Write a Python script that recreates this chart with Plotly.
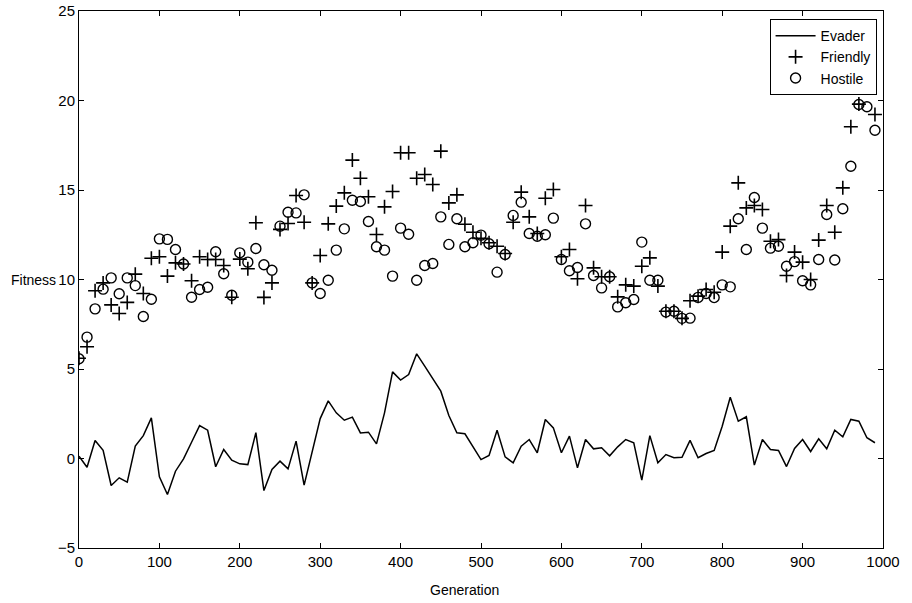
import plotly.graph_objects as go

generation = [0, 10, 20, 30, 40, 50, 60, 70, 80, 90,
              100, 110, 120, 130, 140, 150, 160, 170, 180, 190,
              200, 210, 220, 230, 240, 250, 260, 270, 280, 290,
              300, 310, 320, 330, 340, 350, 360, 370, 380, 390,
              400, 410, 420, 430, 440, 450, 460, 470, 480, 490,
              500, 510, 520, 530, 540, 550, 560, 570, 580, 590,
              600, 610, 620, 630, 640, 650, 660, 670, 680, 690,
              700, 710, 720, 730, 740, 750, 760, 770, 780, 790,
              800, 810, 820, 830, 840, 850, 860, 870, 880, 890,
              900, 910, 920, 930, 940, 950, 960, 970, 980, 990]

evader = [0.13, -0.49, 1.01, 0.46, -1.51, -1.08, -1.32, 0.69, 1.28, 2.27,
          -1.02, -2.01, -0.71, -0.02, 0.91, 1.84, 1.58, -0.46, 0.50, -0.09,
          -0.30, -0.34, 1.44, -1.79, -0.61, -0.15, -0.58, 0.97, -1.49, 0.37,
          2.23, 3.22, 2.55, 2.14, 2.31, 1.43, 1.47, 0.82, 2.55, 4.84,
          4.38, 4.69, 5.85, 5.16, 4.45, 3.76, 2.40, 1.44, 1.38, 0.69,
          -0.06, 0.17, 1.58, 0.09, -0.24, 0.69, 1.06, 0.32, 2.18, 1.71,
          0.32, 1.25, -0.52, 1.06, 0.54, 0.60, 0.15, 0.65, 1.06, 0.88,
          -1.21, 1.28, -0.24, 0.22, 0.04, 0.07, 1.01, 0.04, 0.28, 0.45,
          1.80, 3.42, 2.08, 2.33, -0.37, 1.06, 0.50, 0.45, -0.45, 0.56,
          1.06, 0.39, 1.10, 0.54, 1.58, 1.21, 2.18, 2.08, 1.16, 0.88]

friendly = [5.60, 6.24, 9.37, 9.81, 8.58, 8.10, 8.72, 10.30, 9.22, 11.19,
            11.27, 10.19, 10.93, 10.87, 9.93, 11.27, 11.12, 11.12, 10.78, 9.01,
            11.14, 10.60, 13.17, 9.00, 9.81, 12.80, 13.13, 14.69, 13.20, 9.81,
            11.34, 13.11, 14.10, 14.84, 16.67, 15.66, 14.62, 12.51, 14.06, 14.92,
            17.08, 17.08, 15.66, 15.87, 15.31, 17.17, 14.28, 14.73, 13.09, 12.64,
            12.30, 12.05, 11.86, 11.45, 13.20, 14.88, 13.50, 12.57, 14.54, 15.03,
            11.27, 11.68, 10.04, 14.13, 10.65, 10.15, 10.15, 9.03, 9.70, 9.63,
            10.74, 11.21, 9.63, 8.23, 8.23, 7.83, 8.81, 9.07, 9.44, 9.29,
            11.53, 12.98, 15.40, 14.00, 14.13, 13.91, 12.14, 12.23, 10.22, 11.53,
            10.97, 10.00, 12.20, 14.13, 12.64, 15.12, 18.53, 19.80, 20.71, 19.22]

hostile = [5.57, 6.78, 8.36, 9.46, 10.09, 9.20, 10.09, 9.66, 7.93, 8.90,
           12.27, 12.24, 11.68, 10.87, 9.01, 9.44, 9.57, 11.55, 10.32, 9.12,
           11.49, 10.97, 11.73, 10.82, 10.52, 12.98, 13.76, 13.72, 14.73, 9.81,
           9.22, 9.96, 11.64, 12.83, 14.43, 14.36, 13.24, 11.83, 11.64, 10.19,
           12.87, 12.53, 9.96, 10.78, 10.89, 13.50, 11.96, 13.39, 11.83, 12.05,
           12.48, 12.00, 10.41, 11.40, 13.58, 14.32, 12.57, 12.42, 12.50, 13.43,
           11.12, 10.49, 10.67, 13.11, 10.22, 9.53, 10.15, 8.47, 8.70, 8.88,
           12.09, 9.96, 9.96, 8.18, 8.23, 7.83, 7.84, 9.00, 9.22, 8.99,
           9.70, 9.59, 13.39, 11.68, 14.58, 12.87, 11.75, 11.86, 10.74, 11.00,
           9.93, 9.70, 11.12, 13.63, 11.09, 13.95, 16.33, 19.78, 19.65, 18.34]

x_ticks = [0, 100, 200, 300, 400, 500, 600, 700, 800, 900, 1000]
y_ticks = [-5, 0, 5, 10, 15, 20, 25]

FONT = "Liberation Sans, Arial, Helvetica, sans-serif"

fig = go.Figure()
fig.add_trace(go.Scatter(x=generation, y=evader, mode="lines", name="Evader",
                         line=dict(color="black", width=1.5)))
fig.add_trace(go.Scatter(x=generation, y=friendly, mode="markers", name="Friendly",
                         marker=dict(symbol="cross-thin-open", size=10,
                                     line=dict(color="black", width=1.6),
                                     color="black")))
fig.add_trace(go.Scatter(x=generation, y=hostile, mode="markers", name="Hostile",
                         marker=dict(symbol="circle-open", size=10,
                                     line=dict(color="black", width=1.4),
                                     color="black")))

axis_common = dict(showline=True, linecolor="black", linewidth=1,
                   mirror="allticks", ticks="inside", ticklen=5,
                   tickcolor="black", tickwidth=1, showgrid=False,
                   zeroline=False, automargin=False,
                   tickfont=dict(family=FONT, size=15, color="black"))

fig.update_xaxes(range=[0, 1000], tickvals=x_ticks, **axis_common)
fig.update_yaxes(range=[-5, 25], tickvals=y_ticks, **axis_common)

fig.update_layout(
    template="none",
    width=912, height=603,
    margin=dict(l=79, r=29, t=11, b=55, autoexpand=False),
    paper_bgcolor="white", plot_bgcolor="white",
    font=dict(family=FONT, size=15, color="black"),
    showlegend=True,
    legend=dict(x=0.992, y=0.985, xanchor="right", yanchor="top",
                bgcolor="white", bordercolor="black", borderwidth=1,
                font=dict(family=FONT, size=14, color="black"),
                tracegroupgap=0, itemwidth=40),
    annotations=[
        dict(text="Generation", xref="paper", yref="paper", x=0.48, y=0,
             yshift=-42, xanchor="center", yanchor="middle", showarrow=False,
             font=dict(family=FONT, size=14, color="black")),
        dict(text="Fitness", xref="paper", yref="paper", x=0, y=0.5,
             xshift=-46, xanchor="center", yanchor="middle", showarrow=False,
             font=dict(family=FONT, size=14, color="black")),
    ],
)

fig.write_html("out.html",
               config={"displayModeBar": False},
               post_script="document.body.style.margin='0';"
                           "document.documentElement.style.overflow='hidden';")
